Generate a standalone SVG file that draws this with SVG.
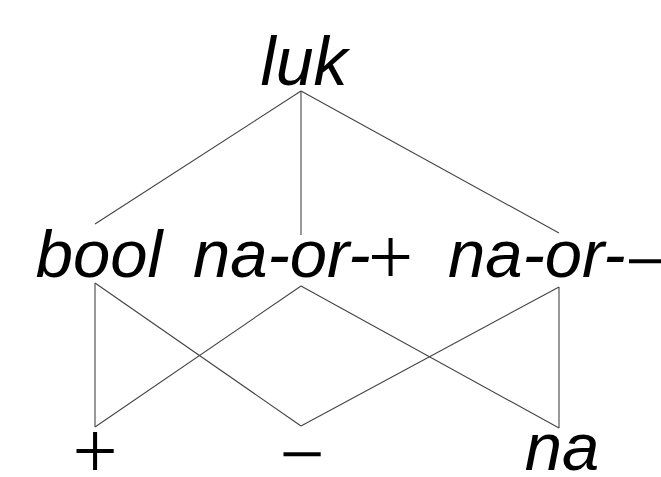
<svg xmlns="http://www.w3.org/2000/svg" width="661" height="477" viewBox="0 0 661 477">
<style>
.lbl{font-family:"Liberation Sans",Arial,sans-serif;font-style:italic;font-size:67px;fill:#000}
.sym{font-family:"Liberation Serif","Times New Roman",serif;font-style:normal;font-size:80px;fill:#000}
.edge{stroke:#444;stroke-width:1.1;fill:none}
</style>
<rect width="661" height="477" fill="#fff"/>
<g id="connectors">
<line class="edge" x1="301" y1="91" x2="95" y2="224"/>
<line class="edge" x1="301" y1="91" x2="301" y2="235"/>
<line class="edge" x1="301" y1="91" x2="559" y2="233"/>
<line class="edge" x1="95" y1="283" x2="95" y2="427"/>
<line class="edge" x1="95" y1="283" x2="301" y2="426"/>
<line class="edge" x1="301" y1="286" x2="95" y2="427"/>
<line class="edge" x1="301" y1="286" x2="559" y2="428"/>
<line class="edge" x1="559" y1="287" x2="301" y2="426"/>
<line class="edge" x1="559" y1="287" x2="559" y2="428"/>
</g>
<g id="node-luk"><text class="lbl" style="font-size:68px" x="304" y="85" text-anchor="middle">luk</text></g>
<g id="node-bool"><text class="lbl" x="99" y="277" text-anchor="middle">bool</text></g>
<g id="node-na-or-plus"><text class="lbl" x="193" y="277">na-or-<tspan class="sym" x="368" y="284">+</tspan></text></g>
<g id="node-na-or-minus"><text class="lbl" x="448" y="277">na-or-<tspan class="sym" x="625" y="288">−</tspan></text></g>
<g id="node-plus"><text class="sym" x="95" y="478" text-anchor="middle">+</text></g>
<g id="node-minus"><text class="sym" x="302" y="481" text-anchor="middle">−</text></g>
<g id="node-na"><text class="lbl" x="562" y="470" text-anchor="middle">na</text></g>
</svg>
